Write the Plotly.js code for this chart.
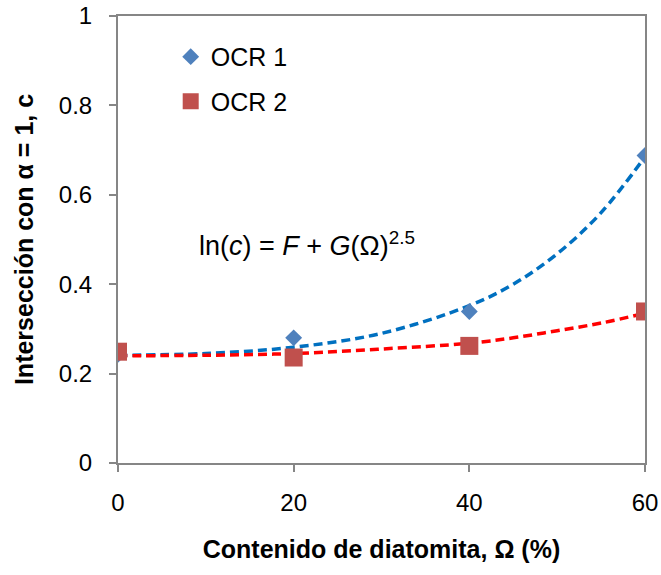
<!DOCTYPE html>
<html>
<head>
<meta charset="utf-8">
<script src="https://cdn.plot.ly/plotly-3.0.1.min.js"></script>
<style>html,body{margin:0;padding:0;background:#fff;}#chart{width:661px;height:575px;}</style>
</head>
<body>
<div id="chart"></div>
<script>
// Measured data
const omega = [0, 20, 40, 60];
const ocr1 = [0.243, 0.280, 0.339, 0.688];
const ocr2 = [0.249, 0.236, 0.262, 0.339];

// Trend curves
const fitOmega = [0, 10, 20, 30, 40, 45, 50, 55, 60];
const fit1 = [0.241, 0.245, 0.259, 0.290, 0.352, 0.400, 0.468, 0.560, 0.685];
const fit2 = [0.240, 0.241, 0.245, 0.255, 0.268, 0.280, 0.296, 0.313, 0.335];

const xTicks = [0, 20, 40, 60];
const yTicks = [0, 0.2, 0.4, 0.6, 0.8, 1];
const yTickText = ['0', '0.2', '0.4', '0.6', '0.8', '1'];

const FONT = 'Liberation Sans, Arial, sans-serif';

const traces = [
  {x: fitOmega, y: fit1, mode: 'lines', line: {color: '#0070C0', width: 3.5, dash: '9px,5px', shape: 'spline'}, showlegend: false, hoverinfo: 'skip'},
  {x: fitOmega, y: fit2, mode: 'lines', line: {color: '#FF0000', width: 3.5, dash: '9px,5px', shape: 'spline'}, showlegend: false, hoverinfo: 'skip'},
  {x: omega, y: ocr1, name: 'OCR 1', mode: 'markers', legendgroup: 'a', marker: {symbol: 'diamond', size: 13, color: '#4F81BD'}},
  {x: omega, y: ocr2, name: 'OCR 2', mode: 'markers', legendgroup: 'b', marker: {symbol: 'square', size: 18, color: '#C0504D'}}
];

const layout = {
  width: 661, height: 575,
  margin: {l: 118, r: 16, t: 16, b: 112},
  paper_bgcolor: '#fff', plot_bgcolor: '#fff',
  font: {family: FONT, color: '#000'},
  showlegend: true,
  legend: {x: 0.1, y: 0.96, xanchor: 'left', yanchor: 'top', font: {size: 25, family: FONT}, tracegroupgap: 9, bgcolor: 'rgba(0,0,0,0)'},
  xaxis: {
    range: [0, 60], tickvals: xTicks, ticks: 'outside', ticklen: 7, tickwidth: 2, tickcolor: '#868686',
    showline: true, linecolor: '#868686', linewidth: 2, mirror: true, showgrid: false, zeroline: false,
    tickfont: {size: 24, family: FONT}, ticklabelstandoff: 10,
    title: {text: '<b>Contenido de diatomita, Ω (%)</b>', font: {size: 25, family: FONT}, standoff: 26}
  },
  yaxis: {
    range: [0, 1], tickvals: yTicks, ticktext: yTickText, ticks: 'outside', ticklen: 7, tickwidth: 2, tickcolor: '#868686',
    showline: true, linecolor: '#868686', linewidth: 2, mirror: true, showgrid: false, zeroline: false,
    tickfont: {size: 24, family: FONT}, ticklabelstandoff: 12,
    title: {text: '<b>Intersección con α = 1, c</b>', font: {size: 25, family: FONT}, standoff: 18}
  },
  annotations: [{
    xref: 'x', yref: 'y', x: 9, y: 0.49, xanchor: 'left', yanchor: 'middle', showarrow: false,
    text: 'ln(<i>c</i>) = <i>F</i> + <i>G</i>(Ω)<sup>2.5</sup>',
    font: {size: 27, family: FONT, color: '#000'}
  }]
};

Plotly.newPlot('chart', traces, layout, {displayModeBar: false, staticPlot: true});
</script>
</body>
</html>
